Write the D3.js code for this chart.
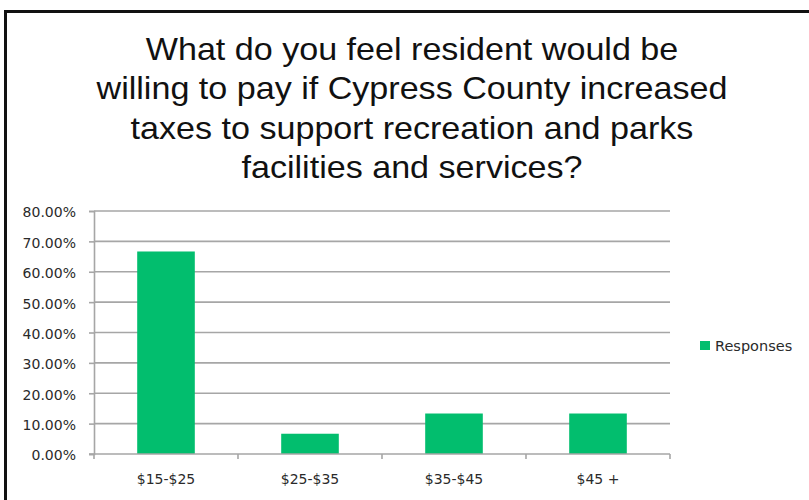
<!DOCTYPE html>
<html>
<head>
<meta charset="utf-8">
<script src="https://cdn.jsdelivr.net/npm/d3@7"></script>
<style>
  html, body { margin: 0; padding: 0; background: #fff; }
  svg { display: block; }
</style>
</head>
<body>
<svg id="chart" width="809" height="500"></svg>
<script>
// Survey responses: share of respondents per tax amount bracket
const categories = ["$15-$25", "$25-$35", "$35-$45", "$45 +"];
const responses = [0.6667, 0.0667, 0.1333, 0.1333];
const yTicks = [0, 0.1, 0.2, 0.3, 0.4, 0.5, 0.6, 0.7, 0.8];
const seriesName = "Responses";
const titleLines = [
  "What do you feel resident would be",
  "willing to pay if Cypress County increased",
  "taxes to support recreation and parks",
  "facilities and services?"
];

const svg = d3.select("#chart");
const green = "#02BE6E";
const gridColor = "#A6A6A6";
const labelFont = "'DejaVu Sans', Verdana, sans-serif";
const labelColor = "#2a2a2a";

// Outer frame
svg.append("path")
  .attr("d", "M5.5,509 V11.5 H820")
  .attr("fill", "none")
  .attr("stroke", "#111")
  .attr("stroke-width", 3);

// Title, slightly widened
const titleCx = 412;
svg.append("g")
  .attr("transform", `translate(${titleCx},0) scale(1.1,1)`)
  .selectAll("text")
  .data(titleLines)
  .join("text")
  .attr("x", 0)
  .attr("y", (d, i) => 60 + i * 39.3)
  .attr("text-anchor", "middle")
  .attr("font-family", "'Liberation Sans', Arial, sans-serif")
  .attr("font-size", 31)
  .attr("fill", "#111")
  .text(d => d);

// Plot area
const plot = { left: 94, right: 670, top: 211, bottom: 454 };

const x = d3.scaleBand()
  .domain(categories)
  .range([plot.left, plot.right])
  .paddingInner(0.6)
  .paddingOuter(0.3);

const y = d3.scaleLinear()
  .domain([0, 0.8])
  .range([plot.bottom, plot.top]);

// Horizontal gridlines
svg.append("g")
  .selectAll("line")
  .data(yTicks.filter(t => t > 0))
  .join("line")
  .attr("x1", plot.left)
  .attr("x2", plot.right)
  .attr("y1", d => y(d))
  .attr("y2", d => y(d))
  .attr("stroke", gridColor)
  .attr("stroke-width", 1.6);

// Y axis
const yAxis = svg.append("g")
  .attr("transform", `translate(${plot.left},0)`)
  .call(d3.axisLeft(y)
    .tickValues(yTicks)
    .tickSize(5)
    .tickPadding(13)
    .tickFormat(d3.format(".2%")));
yAxis.select(".domain").attr("stroke", gridColor).attr("stroke-width", 1.6);
yAxis.selectAll(".tick line").attr("stroke", gridColor).attr("stroke-width", 1.6);
yAxis.selectAll(".tick text")
  .attr("font-family", labelFont)
  .attr("font-size", 14)
  .attr("dy", "0.42em")
  .attr("fill", labelColor);

// Bars
svg.append("g")
  .selectAll("rect")
  .data(categories.map((c, i) => ({ c, v: responses[i] })))
  .join("rect")
  .attr("x", d => x(d.c))
  .attr("width", x.bandwidth())
  .attr("y", d => y(d.v))
  .attr("height", d => y(0) - y(d.v))
  .attr("fill", green);

// X axis with ticks between categories
const xAxisG = svg.append("g").attr("transform", `translate(0,${plot.bottom})`);
xAxisG.append("line")
  .attr("x1", plot.left - 5)
  .attr("x2", plot.right)
  .attr("stroke", gridColor)
  .attr("stroke-width", 1.6);
const step = (plot.right - plot.left) / categories.length;
xAxisG.selectAll("line.sep")
  .data(d3.range(categories.length + 1))
  .join("line")
  .attr("class", "sep")
  .attr("x1", i => plot.left + i * step)
  .attr("x2", i => plot.left + i * step)
  .attr("y1", 0)
  .attr("y2", 5)
  .attr("stroke", gridColor)
  .attr("stroke-width", 1.6);
xAxisG.selectAll("text")
  .data(categories)
  .join("text")
  .attr("x", d => x(d) + x.bandwidth() / 2)
  .attr("y", 30)
  .attr("text-anchor", "middle")
  .attr("font-family", labelFont)
  .attr("font-size", 14)
  .attr("fill", labelColor)
  .text(d => d);

// Legend
const legend = svg.append("g").attr("transform", "translate(700,341)");
legend.append("rect")
  .attr("width", 10)
  .attr("height", 9)
  .attr("fill", green);
legend.append("text")
  .attr("x", 15)
  .attr("y", 9.5)
  .attr("font-family", labelFont)
  .attr("font-size", 14.5)
  .attr("fill", labelColor)
  .text(seriesName);
</script>
</body>
</html>
